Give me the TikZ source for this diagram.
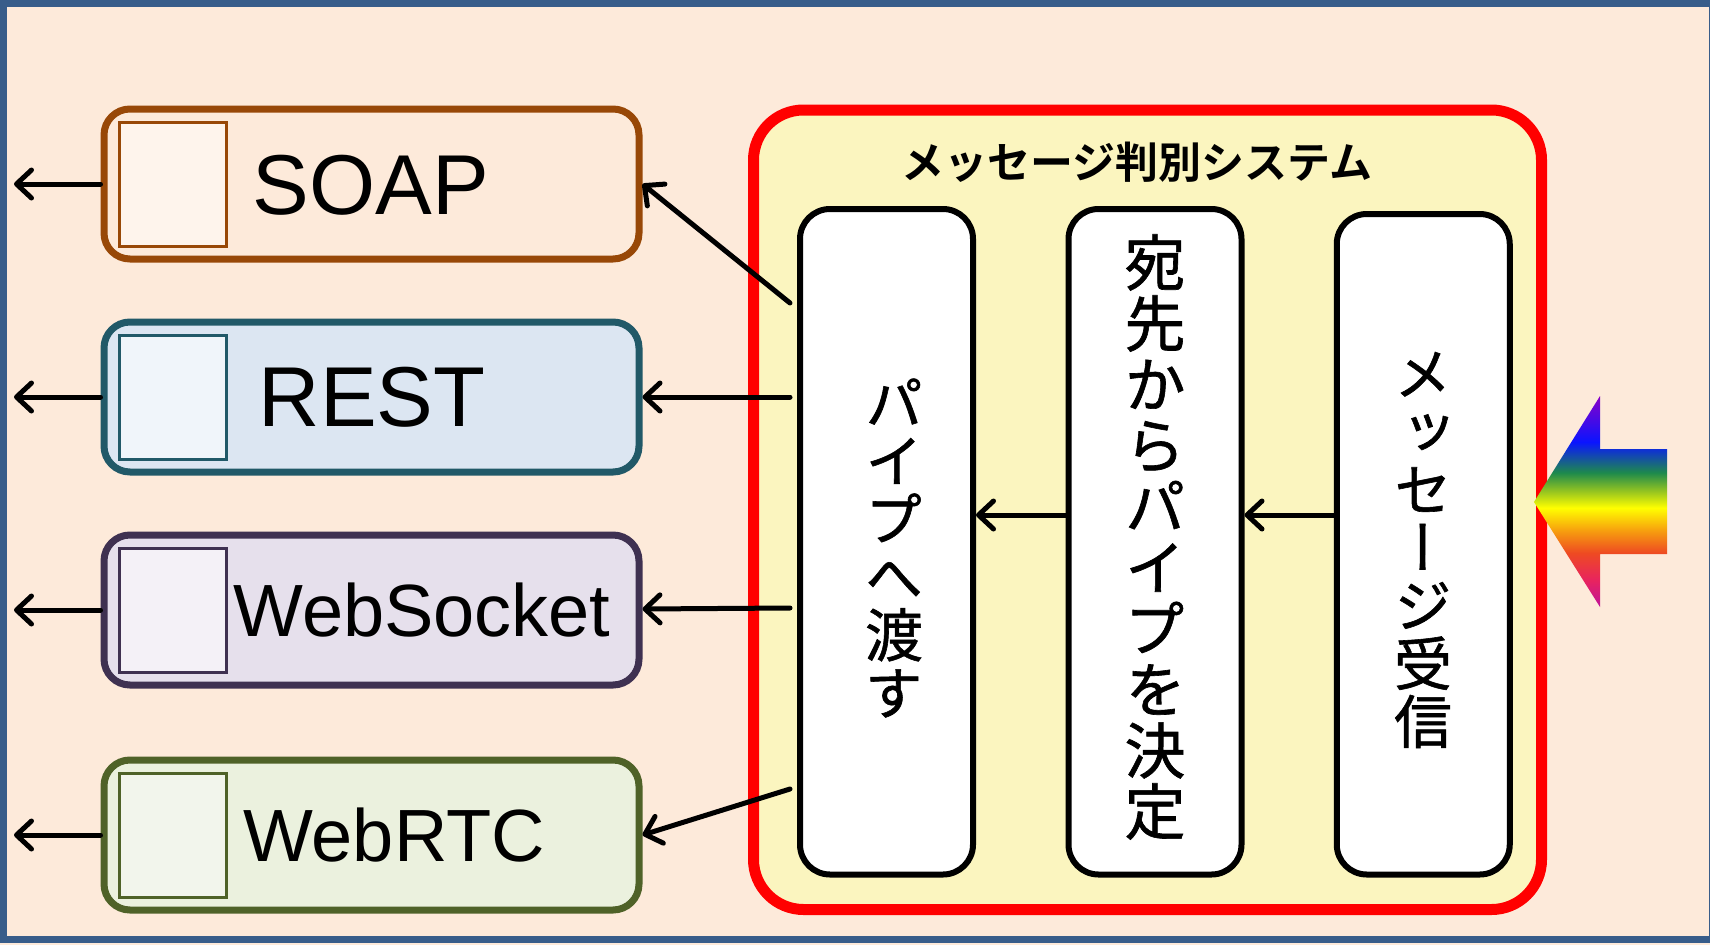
\documentclass[tikz,border=0pt]{standalone}
\usepackage{fontspec}
\setmainfont{Liberation Sans}
\newfontfamily\jptitle{Noto Sans CJK JP Bold}
\newfontfamily\jpv[RawFeature=+vert,FakeBold=1]{Noto Sans CJK JP}
\usetikzlibrary{arrows.meta}
\definecolor{bgc}{HTML}{FDEADA}
\definecolor{framec}{HTML}{385D8A}
\definecolor{soapb}{HTML}{984807}
\definecolor{soapf}{HTML}{FDEADA}
\definecolor{soapi}{HTML}{FEF4EC}
\definecolor{restb}{HTML}{215968}
\definecolor{restf}{HTML}{DCE6F2}
\definecolor{resti}{HTML}{F0F5FA}
\definecolor{wsb}{HTML}{3F3151}
\definecolor{wsf}{HTML}{E6E0EC}
\definecolor{wsi}{HTML}{F4F1F7}
\definecolor{rtcb}{HTML}{4F6228}
\definecolor{rtcf}{HTML}{EBF1DE}
\definecolor{rtci}{HTML}{F2F5EC}
\definecolor{sysf}{HTML}{FBF5BF}
\definecolor{rbA}{HTML}{C0129A}
\definecolor{rbB}{HTML}{E8245E}
\definecolor{rbC}{HTML}{EE4A22}
\definecolor{rbD}{HTML}{F7A00E}
\definecolor{rbE}{HTML}{FFFF00}
\definecolor{rbL}{HTML}{9CC81E}
\definecolor{rbF}{HTML}{1E8A4C}
\definecolor{rbG}{HTML}{0A14FF}
\definecolor{rbH}{HTML}{8A00C8}
\pgfdeclareverticalshading{rainbow}{100bp}{color(0bp)=(rbA); color(25bp)=(rbA); color(31.4bp)=(rbB); color(37.8bp)=(rbC); color(43.2bp)=(rbD); color(48.5bp)=(rbE); color(52.2bp)=(rbL); color(56.8bp)=(rbF); color(64.1bp)=(rbG); color(75bp)=(rbH); color(100bp)=(rbH)}
\begin{document}
\begin{tikzpicture}[x=1pt,y=-1pt,
  protobox/.style={draw=#1, line width=7pt, rounded corners=26pt, minimum width=535pt, minimum height=150pt, inner sep=0pt},
  innersq/.style={draw=#1, line width=3pt, minimum width=107pt, minimum height=124pt, inner sep=0pt},
  txt/.style={inner sep=0pt, font=\fontsize{#1}{#1}\selectfont},
  stepbox/.style={draw=black, fill=white, line width=6pt, rounded corners=30pt, minimum width=173pt, inner sep=0pt},
  vtext/.style={inner sep=0pt, align=center, font=\jpv\fontsize{#1}{#1}\selectfont},
  arr/.style={draw=black, line width=5pt, line cap=round, -{Straight Barb[length=15pt,width=28pt,round]}}]
\useasboundingbox (0,0) rectangle (1710,945);
\fill[bgc] (0,0) rectangle (1710,945);
\draw[framec, line width=7pt] (3.5,3) rectangle (1712.5,939.5);

% protocol boxes
\node[protobox=soapb, fill=soapf] (soap) at (371.5,184) {};
\node[protobox=restb, fill=restf] (rest) at (371.5,397) {};
\node[protobox=wsb, fill=wsf] (ws) at (371.5,610) {};
\node[protobox=rtcb, fill=rtcf] (rtc) at (371.5,835) {};
\node[innersq=soapb, fill=soapi] (soapsq) at (172.5,184) {};
\node[innersq=restb, fill=resti] (restsq) at (172.5,397) {};
\node[innersq=wsb, fill=wsi] (wssq) at (172.5,610) {};
\node[innersq=rtcb, fill=rtci] (rtcsq) at (172.5,835) {};
\node[txt=85] (soapt) at (371,185) {SOAP};
\node[txt=85] (restt) at (372,397) {REST};
\node[txt=74] (wst) at (422,610) {WebSocket};
\node[txt=74] (rtct) at (394,835) {WebRTC};

% left exit arrows
\coordinate (o1) at (14,184);
\coordinate (o2) at (14,397);
\coordinate (o3) at (14,610);
\coordinate (o4) at (14,835);
\draw[arr] (soap.west) -- (o1);
\draw[arr] (rest.west) -- (o2);
\draw[arr] (ws.west) -- (o3);
\draw[arr] (rtc.west) -- (o4);

% system
\node[draw=red, fill=sysf, line width=11pt, rounded corners=50pt, minimum width=788pt, minimum height=799.5pt, inner sep=0pt] (sys) at (1147.5,509.75) {};
\node[inner sep=0pt, font=\jptitle\fontsize{43}{43}\selectfont] (title) at (1137,162) {メッセージ判別システム};

\node[stepbox, minimum height=665.5pt] (b1) at (886.5,541.75) {};
\node[stepbox, minimum height=665.5pt] (b2) at (1155,541.75) {};
\node[stepbox, minimum height=660.5pt] (b3) at (1423.25,544.25) {};
\node[vtext=58] (t1) at (894,548) {パ\\イ\\プ\\へ\\渡\\す};
\node[vtext=61] (t2) at (1155,537) {宛\\先\\か\\ら\\パ\\イ\\プ\\を\\決\\定};
\node[vtext=58] (t3) at (1423,550) {メ\\ッ\\セ\\ー\\ジ\\受\\信};

\coordinate (ylev) at (0,515);
\draw[arr] (b3.west |- ylev) -- (b2.east |- ylev);
\draw[arr] (b2.west |- ylev) -- (b1.east |- ylev);

\coordinate (s1) at (790,303);
\coordinate (s2) at (790,397);
\coordinate (s3) at (790,608);
\coordinate (s4) at (790,789);
\draw[arr] (s1) -- (soap.east);
\draw[arr] (s2) -- (rest.east);
\draw[arr] (s3) -- ([yshift=1pt]ws.east);
\draw[arr] (s4) -- (rtc.east);

% incoming rainbow arrow
\shade[shading=rainbow] (1534,502) -- (1600,396) -- (1600,449) -- (1667,449) -- (1667,554) -- (1600,554) -- (1600,607) -- cycle;
\end{tikzpicture}
\end{document}
